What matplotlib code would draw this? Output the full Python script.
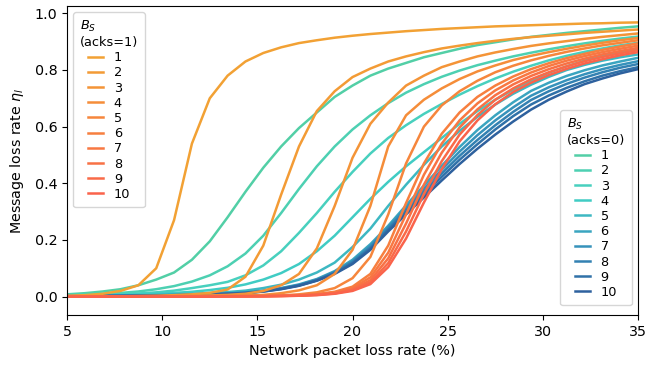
import matplotlib
matplotlib.use("Agg")
import matplotlib.pyplot as plt

plt.rcParams["font.size"] = 10.3

# network packet loss rate (%) at which each curve was sampled
plr = [5.0, 5.9375, 6.875, 7.8125, 8.75, 9.6875, 10.625, 11.5625, 12.5, 13.4375,
       14.375, 15.3125, 16.25, 17.1875, 18.125, 19.0625, 20.0, 20.9375, 21.875,
       22.8125, 23.75, 24.6875, 25.625, 26.5625, 27.5, 28.4375, 29.375, 30.3125,
       31.25, 32.1875, 33.125, 34.0625, 35.0]

# acks=1
ack1_b1 = [0.003, 0.005, 0.01, 0.02, 0.04, 0.10, 0.27, 0.54, 0.70, 0.78, 0.83, 0.86, 0.88, 0.895, 0.905, 0.914, 0.921,
           0.927, 0.932, 0.937, 0.941, 0.945, 0.948, 0.951, 0.954, 0.956, 0.958, 0.960, 0.962, 0.964, 0.965, 0.967, 0.968]
ack1_b2 = [0.0, 0.0, 0.001, 0.001, 0.002, 0.003, 0.005, 0.008, 0.013, 0.025, 0.07, 0.18, 0.36, 0.53, 0.655, 0.725, 0.775,
           0.805, 0.83, 0.848, 0.863, 0.876, 0.886, 0.895, 0.903, 0.91, 0.916, 0.921, 0.926, 0.931, 0.935, 0.939, 0.943]
ack1_b3 = [0.0, 0.0, 0.0, 0.0, 0.001, 0.001, 0.002, 0.003, 0.004, 0.006, 0.01, 0.02, 0.04, 0.08, 0.17, 0.32, 0.49,
           0.61, 0.685, 0.745, 0.78, 0.81, 0.83, 0.848, 0.862, 0.874, 0.885, 0.894, 0.902, 0.91, 0.917, 0.923, 0.929]
ack1_b4 = [0.0, 0.0, 0.0, 0.0, 0.0, 0.001, 0.001, 0.002, 0.002, 0.003, 0.004, 0.006, 0.012, 0.022, 0.04, 0.08, 0.165,
           0.32, 0.53, 0.64, 0.695, 0.735, 0.768, 0.795, 0.816, 0.835, 0.85, 0.863, 0.875, 0.886, 0.896, 0.905, 0.913]
ack1_b5 = [0.0, 0.0, 0.0, 0.0, 0.0, 0.0, 0.001, 0.001, 0.001, 0.002, 0.003, 0.003, 0.004, 0.008, 0.015, 0.03, 0.065,
           0.14, 0.29, 0.47, 0.6, 0.675, 0.725, 0.762, 0.792, 0.815, 0.834, 0.85, 0.864, 0.876, 0.887, 0.896, 0.905]
ack1_b6 = [0.0, 0.0, 0.0, 0.0, 0.0, 0.0, 0.0, 0.001, 0.001, 0.001, 0.002, 0.002, 0.003, 0.005, 0.009, 0.017, 0.035,
           0.08, 0.18, 0.33, 0.47, 0.575, 0.65, 0.705, 0.745, 0.777, 0.803, 0.824, 0.842, 0.857, 0.871, 0.883, 0.894]
ack1_b7 = [0.0, 0.0, 0.0, 0.0, 0.0, 0.0, 0.0, 0.0, 0.001, 0.001, 0.001, 0.002, 0.003, 0.004, 0.008, 0.014, 0.03,
           0.068, 0.155, 0.29, 0.43, 0.54, 0.622, 0.682, 0.728, 0.763, 0.791, 0.814, 0.833, 0.849, 0.863, 0.875, 0.886]
ack1_b8 = [0.0, 0.0, 0.0, 0.0, 0.0, 0.0, 0.0, 0.0, 0.001, 0.001, 0.001, 0.002, 0.002, 0.004, 0.007, 0.012, 0.026,
           0.058, 0.135, 0.258, 0.395, 0.508, 0.597, 0.661, 0.711, 0.749, 0.779, 0.803, 0.823, 0.84, 0.855, 0.867, 0.878]
ack1_b9 = [0.0, 0.0, 0.0, 0.0, 0.0, 0.0, 0.0, 0.0, 0.0, 0.001, 0.001, 0.001, 0.002, 0.003, 0.006, 0.011, 0.023,
           0.05, 0.118, 0.23, 0.362, 0.478, 0.572, 0.641, 0.695, 0.735, 0.767, 0.792, 0.813, 0.831, 0.846, 0.859, 0.87]
ack1_b10 = [0.0, 0.0, 0.0, 0.0, 0.0, 0.0, 0.0, 0.0, 0.0, 0.001, 0.001, 0.001, 0.002, 0.003, 0.005, 0.01, 0.02,
            0.044, 0.104, 0.205, 0.332, 0.45, 0.548, 0.622, 0.679, 0.722, 0.755, 0.782, 0.804, 0.823, 0.838, 0.852, 0.863]

# acks=0
ack0_b1 = [0.008, 0.012, 0.018, 0.026, 0.04, 0.06, 0.085, 0.13, 0.195, 0.28, 0.37, 0.455, 0.53, 0.595, 0.65, 0.705, 0.745,
           0.78, 0.805, 0.825, 0.845, 0.86, 0.875, 0.888, 0.898, 0.908, 0.917, 0.924, 0.931, 0.937, 0.943, 0.949, 0.954]
ack0_b2 = [0.006, 0.008, 0.01, 0.013, 0.018, 0.026, 0.037, 0.053, 0.075, 0.107, 0.152, 0.215, 0.295, 0.38, 0.46, 0.53, 0.59,
           0.64, 0.683, 0.72, 0.75, 0.776, 0.798, 0.817, 0.833, 0.848, 0.861, 0.873, 0.884, 0.894, 0.903, 0.911, 0.918]
ack0_b3 = [0.004, 0.005, 0.006, 0.008, 0.011, 0.015, 0.021, 0.03, 0.04, 0.052, 0.075, 0.11, 0.16, 0.225, 0.295, 0.37, 0.44,
           0.505, 0.56, 0.605, 0.645, 0.68, 0.713, 0.743, 0.77, 0.794, 0.815, 0.834, 0.85, 0.864, 0.876, 0.887, 0.896]
ack0_b4 = [0.003, 0.004, 0.005, 0.006, 0.008, 0.01, 0.013, 0.017, 0.023, 0.031, 0.043, 0.06, 0.083, 0.115, 0.16, 0.215, 0.28,
           0.345, 0.405, 0.46, 0.51, 0.56, 0.61, 0.655, 0.695, 0.73, 0.762, 0.79, 0.813, 0.833, 0.85, 0.864, 0.876]
ack0_b5 = [0.002, 0.003, 0.003, 0.004, 0.005, 0.006, 0.008, 0.01, 0.013, 0.016, 0.021, 0.03, 0.042, 0.06, 0.085, 0.12, 0.175,
           0.24, 0.32, 0.395, 0.465, 0.53, 0.585, 0.635, 0.678, 0.716, 0.748, 0.776, 0.80, 0.818, 0.833, 0.845, 0.855]
ack0_b6 = [0.002, 0.002, 0.003, 0.003, 0.004, 0.005, 0.006, 0.008, 0.01, 0.012, 0.015, 0.021, 0.03, 0.043, 0.062, 0.09, 0.13,
           0.185, 0.25, 0.322, 0.392, 0.462, 0.528, 0.588, 0.64, 0.686, 0.726, 0.755, 0.779, 0.799, 0.816, 0.83, 0.843]
ack0_b7 = [0.002, 0.002, 0.002, 0.003, 0.003, 0.004, 0.005, 0.007, 0.009, 0.011, 0.014, 0.02, 0.029, 0.041, 0.06, 0.087, 0.125,
           0.178, 0.245, 0.313, 0.38, 0.448, 0.512, 0.57, 0.622, 0.668, 0.709, 0.739, 0.764, 0.785, 0.803, 0.818, 0.831]
ack0_b8 = [0.001, 0.002, 0.002, 0.002, 0.003, 0.004, 0.005, 0.006, 0.008, 0.01, 0.013, 0.019, 0.028, 0.04, 0.058, 0.085, 0.122,
           0.173, 0.24, 0.305, 0.37, 0.435, 0.497, 0.553, 0.605, 0.652, 0.694, 0.725, 0.751, 0.773, 0.792, 0.808, 0.821]
ack0_b9 = [0.001, 0.001, 0.002, 0.002, 0.003, 0.003, 0.004, 0.006, 0.008, 0.01, 0.013, 0.018, 0.027, 0.039, 0.057, 0.082, 0.118,
           0.169, 0.235, 0.298, 0.36, 0.423, 0.483, 0.538, 0.59, 0.637, 0.678, 0.71, 0.737, 0.76, 0.78, 0.796, 0.81]
ack0_b10 = [0.001, 0.001, 0.002, 0.002, 0.003, 0.003, 0.004, 0.005, 0.007, 0.009, 0.012, 0.018, 0.026, 0.038, 0.056, 0.08, 0.115,
            0.165, 0.23, 0.29, 0.35, 0.41, 0.468, 0.522, 0.572, 0.618, 0.66, 0.695, 0.724, 0.75, 0.77, 0.788, 0.803]

buffer_sizes = ["1", "2", "3", "4", "5", "6", "7", "8", "9", "10"]

colors_ack1 = ["#f2a134", "#f39b35", "#f49437", "#f58d39", "#f6863c",
               "#f77f3f", "#f87842", "#f87145", "#f96a48", "#fa634b"]
colors_ack0 = ["#52cfa6", "#4dd0b2", "#48d0be", "#40ccc4", "#3db8c2",
               "#3aa5c0", "#3692bb", "#3381b2", "#3071a8", "#2e619e"]

curves_ack1 = [ack1_b1, ack1_b2, ack1_b3, ack1_b4, ack1_b5, ack1_b6, ack1_b7, ack1_b8, ack1_b9, ack1_b10]
curves_ack0 = [ack0_b1, ack0_b2, ack0_b3, ack0_b4, ack0_b5, ack0_b6, ack0_b7, ack0_b8, ack0_b9, ack0_b10]

fig = plt.figure(figsize=(6.46, 3.67), dpi=100)
ax = fig.add_axes([0.1037, 0.1417, 0.884, 0.842])

lines0 = []
for ys, c, lab in zip(curves_ack0, colors_ack0, buffer_sizes):
    l, = ax.plot(plr, ys, color=c, lw=1.8, label=lab)
    lines0.append(l)

lines1 = []
for ys, c, lab in zip(curves_ack1, colors_ack1, buffer_sizes):
    l, = ax.plot(plr, ys, color=c, lw=1.8, label=lab)
    lines1.append(l)

ax.set_xlim(5, 35)
ax.set_ylim(-0.065, 1.026)
ax.set_xlabel("Network packet loss rate (%)")
ax.set_ylabel(r"Message loss rate $\eta_l$", labelpad=6)

leg_kw = dict(fontsize=9.3, title_fontsize=9.3, handlelength=1.2, labelspacing=0.17,
              borderpad=0.5)
leg1 = ax.legend(handles=lines1, title="$B_S$\n(acks=1)", loc="upper left", **leg_kw)
ax.add_artist(leg1)
ax.legend(handles=lines0, title="$B_S$\n(acks=0)", loc="lower right",
          bbox_to_anchor=(1.0, 0.01), **leg_kw)

fig.savefig("out.png", dpi=100)
